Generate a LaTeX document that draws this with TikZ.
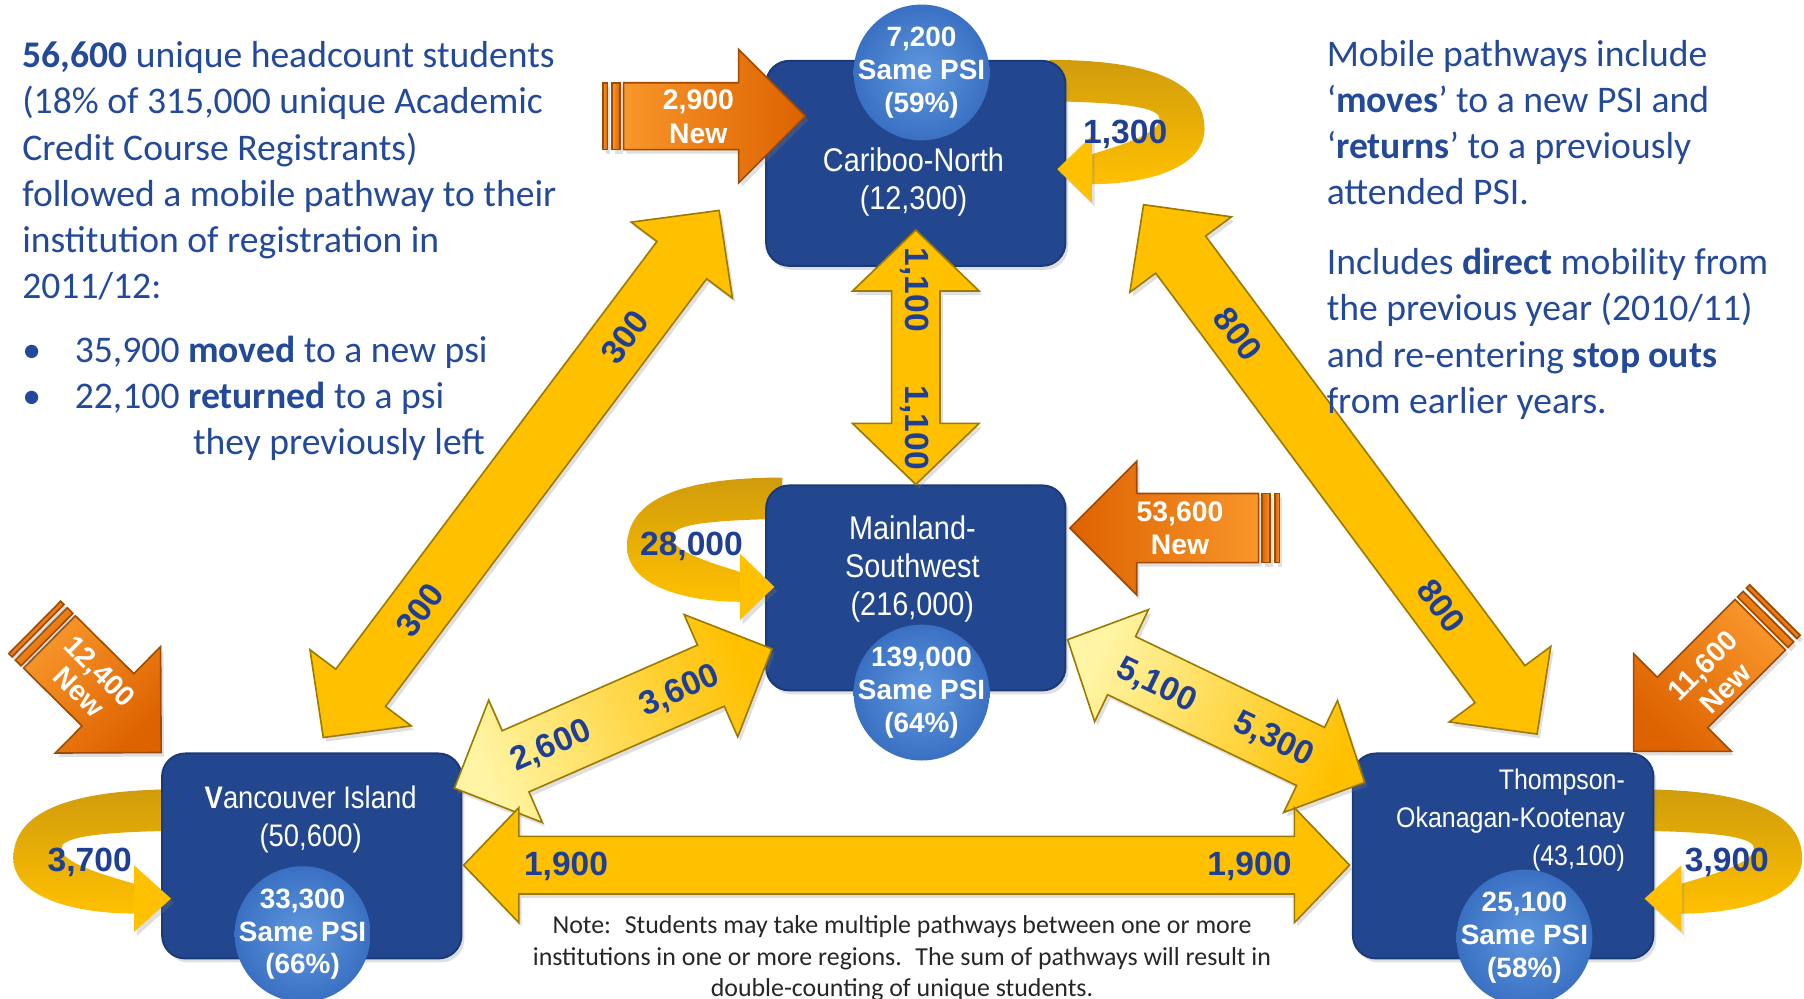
\documentclass[tikz,border=0pt]{standalone}
\usepackage{fontspec}
\setmainfont{Carlito}
\newfontfamily\regionfont[FakeStretch=0.88]{Liberation Sans}
\newfontfamily\figfont{Liberation Sans}
\usetikzlibrary{
		calc,
		positioning,
		shadows,
		backgrounds
	}
\definecolor{boxblue}{HTML}{23478F}
\definecolor{boxedge}{HTML}{1B3A7A}
\definecolor{psilight}{HTML}{5F98DE}
\definecolor{psidark}{HTML}{3A70C2}
\definecolor{gold}{HTML}{FFC000}
\definecolor{goldedge}{HTML}{9C7A00}
\definecolor{pale}{HTML}{FFF5A5}
\definecolor{loopdark}{HTML}{D09C0C}
\definecolor{orangelight}{HTML}{F8962A}
\definecolor{orangedark}{HTML}{DD6200}
\definecolor{orangeedge}{HTML}{A04A00}
\definecolor{labelblue}{HTML}{1F3F95}
\definecolor{txtblue}{HTML}{23499B}
\definecolor{notegray}{HTML}{262626}
\tikzset{
		>=stealth,
		flowshadow/.style={drop shadow={opacity=.25, shadow xshift=.025cm, shadow yshift=-.035cm}},
		region/.style={fill=boxblue, draw=boxedge, line width=.5pt, rounded corners=.2cm,
			minimum width=2.6cm, minimum height=1.78cm, flowshadow},
		regiontext/.style={text=white, font=\regionfont\fontsize{8.1}{9.3}\selectfont, align=center, inner sep=0pt},
		samepsi/.style={circle, minimum size=1.18cm, inner sep=0pt, inner color=psilight, outer color=psidark},
		psitext/.style={text=white, font=\figfont\bfseries\fontsize{6.9}{8.1}\selectfont, align=center, inner sep=0pt},
		flowlabel/.style={text=labelblue, font=\figfont\bfseries\fontsize{8.3}{9.6}\selectfont, inner sep=0pt},
		newlabel/.style={text=white, font=\figfont\bfseries\fontsize{7}{8.25}\selectfont, align=center, inner sep=0pt},
		sidetext/.style={text=txtblue, font=\fontsize{9.3}{11.4}\selectfont, align=left, inner sep=0pt},
		notetext/.style={text=notegray, font=\fontsize{6.4}{7.8}\selectfont, align=center, inner sep=0pt},
		goldflow/.style={fill=gold, draw=goldedge, line width=.4pt, flowshadow},
		paleflow/.style={top color=gold, bottom color=pale, shading angle=#1, draw=goldedge, line width=.4pt, flowshadow},
		neworange/.style={top color=orangedark, bottom color=orangelight, shading angle=#1, draw=orangeedge, line width=.4pt, flowshadow},
		loopband/.style={top color=loopdark, bottom color=gold},
		loophead/.style={fill=gold, flowshadow}
	}
% block arrow with two heads: {tip}{tip}{half shaft}{half head}{head length}{style}
\tikzset{pics/twoway/.style n args={6}{code={
	\path[#6] (#1)
	  -- ($(#1)!#5!(#2)!#4!90:(#2)$) -- ($(#1)!#5!(#2)!#3!90:(#2)$)
	  -- ($(#2)!#5!(#1)!#3!-90:(#1)$) -- ($(#2)!#5!(#1)!#4!-90:(#1)$)
	  -- (#2)
	  -- ($(#2)!#5!(#1)!#4!90:(#1)$) -- ($(#2)!#5!(#1)!#3!90:(#1)$)
	  -- ($(#1)!#5!(#2)!#3!-90:(#2)$) -- ($(#1)!#5!(#2)!#4!-90:(#2)$)
	  -- cycle;
	}}}
% block arrow for new students: {tail}{tip}{half shaft}{half head}{head length}{style}
\tikzset{pics/newin/.style n args={6}{code={
	\path[#6] ($(#1)!#3!90:(#2)$)
	  -- ($(#2)!#5!(#1)!#3!-90:(#1)$) -- ($(#2)!#5!(#1)!#4!-90:(#1)$)
	  -- (#2)
	  -- ($(#2)!#5!(#1)!#4!90:(#1)$) -- ($(#2)!#5!(#1)!#3!90:(#1)$)
	  -- ($(#1)!#3!-90:(#2)$) -- cycle;
	\foreach \ga/\gb in {.03cm/.10cm, .14cm/.18cm} % the two bars behind the tail
	  \path[#6] ($(#1)!-\ga!(#2)!#3!90:(#2)$) -- ($(#1)!-\gb!(#2)!#3!90:(#2)$)
	    -- ($(#1)!-\gb!(#2)!#3!-90:(#2)$) -- ($(#1)!-\ga!(#2)!#3!-90:(#2)$) -- cycle;
	}}}
% students staying in their region
\tikzset{pics/selfloop/.style={code={
	\begin{pgfonlayer}{background}
	  \path[loopband] (-15,0) .. controls (80,0) and (120,22) .. (120,60)
	    .. controls (120,94) and (70,108) .. (22,108) -- (22,82)
	    .. controls (48,74) and (80,64) .. (81,52)
	    .. controls (82,42) and (55,37) .. (-15,36) -- cycle;
	\end{pgfonlayer}
	\path[loophead] (22,66) -- (-8,95) -- (22,124) -- cycle;
	}}}

\begin{document}
\begin{tikzpicture}[x=0.01cm, y=-0.01cm] % one unit = one pixel of the slide, y going down
	\useasboundingbox (0,0) rectangle (1568,868);
	% the four regions
	\node[region] (cn) at (796,142) {};
	\node[region] (mw) at (796,511) {};
	\node[region] (vi) at (271,744) {};
	\node[region, minimum width=2.61cm] (tok) at (1306.5,744) {};
	% returns inside a region
	\pic at (cn.north east) {selfloop};
	\pic[xscale=-1] at ($(mw.north west)+(0,-6)$) {selfloop};
	\pic[xscale=-1.07] at ($(vi.north west)+(0,32)$) {selfloop};
	\pic[xscale=1.07] at ($(tok.north east)+(0,32)$) {selfloop};
	% ends of the flows
	\coordinate (cn-s) at ($(cn.south)+(0,-32)$);
	\coordinate (n300) at ($(cn.south west)+(-40,-49)$);
	\coordinate (s300) at ($(vi.north)+(10,-13)$);
	\coordinate (n800) at ($(cn.south east)+(67,-54)$);
	\coordinate (s800) at ($(tok.north)+(29.5,-16)$);
	\coordinate (vi-ne) at ($(vi.north east)+(-7,31)$);
	\coordinate (mw-w) at ($(mw.west)+(6,53)$);
	\coordinate (mw-e) at ($(mw.east)+(1,45)$);
	\coordinate (tok-nw) at ($(tok.north west)+(11,26)$);
	\coordinate (vi-e) at ($(vi.east)+(1,8)$);
	\coordinate (tok-w) at ($(tok.west)+(-2,8)$);
	\coordinate (t2900) at (542,101);
	\coordinate (cn-w) at ($(cn.west)+(35,-41)$);
	\coordinate (t53600) at (1094,459);
	\coordinate (mw-ne) at ($(mw.east)+(3,-52)$);
	\coordinate (t12400) at (43,558);
	\coordinate (t11600) at (1530,543);
	\coordinate (tok-ne) at ($(tok.north east)+(-18,-1)$);
	% moves between regions
	\pic{twoway={cn-s}{mw.north}{.21cm}{.55cm}{.53cm}{goldflow}};
	\pic{twoway={n300}{s300}{.27cm}{.55cm}{.54cm}{goldflow}};
	\pic{twoway={n800}{s800}{.27cm}{.55cm}{.54cm}{goldflow}};
	\pic{twoway={vi-ne}{mw-w}{.29cm}{.58cm}{.58cm}{paleflow=-66.5}};
	\pic{twoway={mw-e}{tok-nw}{.28cm}{.54cm}{.52cm}{paleflow=-115.7}};
	\pic{twoway={vi-e}{tok-w}{.25cm}{.5cm}{.48cm}{goldflow}};
	% new students
	\pic{newin={t2900}{cn-w}{.29cm}{.58cm}{.58cm}{neworange=-90}};
	\pic{newin={t53600}{mw-ne}{.30cm}{.58cm}{.58cm}{neworange=90}};
	\pic{newin={t12400}{vi.north west}{.32cm}{.65cm}{.65cm}{neworange=-135}};
	\pic{newin={t11600}{tok-ne}{.31cm}{.6cm}{.6cm}{neworange=135}};
	% same psi
	\node[samepsi] (cn-psi) at (801,63) {};
	\node[samepsi] (mw-psi) at (801,602) {};
	\node[samepsi] (vi-psi) at (263,812) {};
	\node[samepsi] (tok-psi) at (1325,815) {};
	\node[psitext] (cn-psi-t) at (cn-psi) {7,200\\Same PSI\\(59\%)};
	\node[psitext] (mw-psi-t) at (mw-psi) {139,000\\Same PSI\\(64\%)};
	\node[psitext] (vi-psi-t) at (vi-psi) {33,300\\Same PSI\\(66\%)};
	\node[psitext] (tok-psi-t) at (tok-psi) {25,100\\Same PSI\\(58\%)};
	% region names
	\node[regiontext] (cn-name) at (794,158) {Cariboo-North\\(12,300)};
	\node[regiontext] (mw-name) at (793,494.5) {Mainland-\\Southwest\\(216,000)};
	\node[regiontext, font=\regionfont\fontsize{7.7}{9.3}\selectfont] (vi-name) at (270,712) {{\bfseries V}ancouver Island\\(50,600)};
	\node[regiontext, align=right, anchor=east, font=\regionfont\fontsize{7}{9.3}\selectfont] (tok-name) at (1413,713) {Thompson-\\Okanagan-Kootenay\\(43,100)};
	% flow labels
	\node[flowlabel, rotate=-90] (l1100a) at (795,252) {1,100};
	\node[flowlabel, rotate=-90] (l1100b) at (795,372) {1,100};
	\node[flowlabel, rotate=53] (l300a) at (543,293) {300};
	\node[flowlabel, rotate=53] (l300b) at (365,530) {300};
	\node[flowlabel, rotate=-53] (l800a) at (1076,290) {800};
	\node[flowlabel, rotate=-53] (l800b) at (1253,527) {800};
	\node[flowlabel, rotate=23.5] (l2600) at (479,649) {2,600};
	\node[flowlabel, rotate=23.5] (l3600) at (591,601) {3,600};
	\node[flowlabel, rotate=-25.7] (l5100) at (1005,596) {5,100};
	\node[flowlabel, rotate=-25.7] (l5300) at (1107,643) {5,300};
	\node[flowlabel] (l1900a) at (492,753) {1,900};
	\node[flowlabel] (l1900b) at (1086,753) {1,900};
	\node[flowlabel] (l1300) at (978,117) {1,300};
	\node[flowlabel] (l28000) at (601,475) {28,000};
	\node[flowlabel] (l3700) at (78,750) {3,700};
	\node[flowlabel] (l3900) at (1501,750) {3,900};
	\node[newlabel] (n2900) at (607,101.5) {2,900\\New};
	\node[newlabel] (n53600) at (1025.6,459) {53,600\\New};
	\node[newlabel, rotate=-45, font=\figfont\bfseries\fontsize{7}{7.3}\selectfont] (n12400) at (78,592.5) {12,400\\New};
	\node[newlabel, rotate=45, font=\figfont\bfseries\fontsize{7}{7.8}\selectfont] (n11600) at (1490,588.5) {11,600\\New};
	% texts
	\node[sidetext, anchor=north west] (intro) at (18.7,35.5) {\textbf{56,600} unique headcount students\\(18\% of 315,000 unique Academic\\Credit Course Registrants)\\followed a mobile pathway to their\\institution of registration in\\2011/12:\\[4.4pt]\makebox[.456cm][l]{\textbullet}35,900 \textbf{moved} to a new psi\\\makebox[.456cm][l]{\textbullet}22,100 \textbf{returned} to a psi\\\hspace*{1.483cm}they previously left};
	\node[sidetext, anchor=north west] (mobile) at (1152.5,34) {Mobile pathways include\\‘\textbf{moves}’ to a new PSI and\\‘\textbf{returns}’ to a previously\\attended PSI.\\[6pt]Includes \textbf{direct} mobility from\\the previous year (2010/11)\\and re-entering \textbf{stop outs}\\from earlier years.};
	\node[notetext] (note) at (784,833) {Note:~ Students may take multiple pathways between one or more\\institutions in one or more regions.~ The sum of pathways will result in\\double-counting of unique students.};
\end{tikzpicture}
\end{document}
